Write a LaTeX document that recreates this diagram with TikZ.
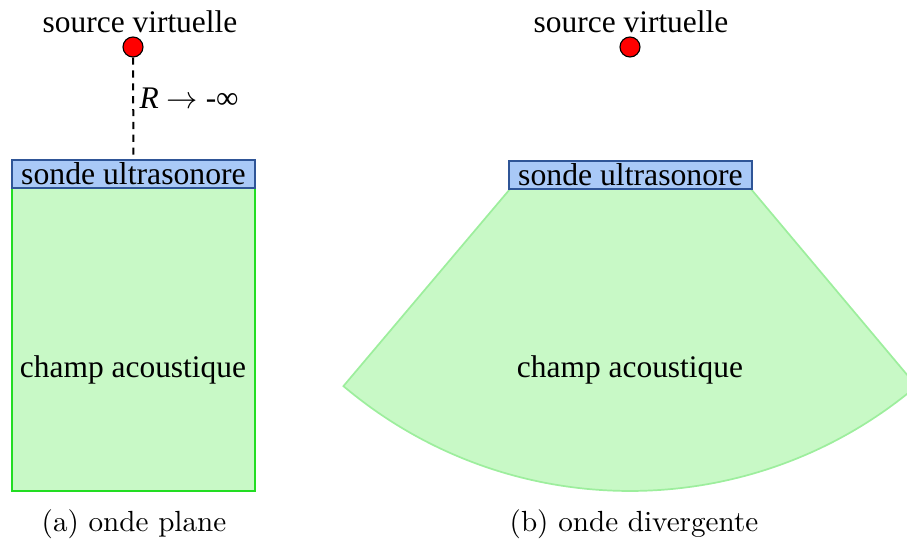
\documentclass[tikz,border=0pt]{standalone}
\usepackage{fontspec}
\newfontfamily\drawfont{Liberation Serif}
\usepackage{tikz}
\usetikzlibrary{positioning,calc}
\definecolor{probefill}{HTML}{A9C9F7}
\definecolor{probeline}{HTML}{2F5597}
\definecolor{fieldfill}{HTML}{C8F9C6}
\definecolor{fieldlineA}{HTML}{22DD22}
\definecolor{fieldlineB}{HTML}{9DEE9D}

\begin{document}
\begin{tikzpicture}[x=0.35pt,y=0.35pt]
	\tikzset{every node/.style={font=\drawfont\fontsize{11}{13}\selectfont}}
	\tikzset{probe/.style={draw=probeline,fill=probefill,line width=0.7pt,minimum width=85pt,minimum height=9.8pt,inner sep=0pt,font=\drawfont\fontsize{11.1}{13}\selectfont}}
	\tikzset{srcdot/.style={circle,draw=black,fill=red,minimum size=7pt,inner sep=0pt,line width=0.4pt}}
	\tikzset{subcap/.style={font=\rmfamily\fontsize{10.2}{12}\selectfont}}
	\useasboundingbox (0,0) rectangle (907,541);
	\clip (0,0) rectangle (907,541);
	% (a) onde plane
	\node[draw=fieldlineA,fill=fieldfill,line width=0.5pt,minimum width=85pt,minimum height=106pt,inner sep=0pt] (fieldA) at (133.5,201.5) {};
	\node[probe] (probeA) at (133.5,367) {sonde ultrasonore};
	\node[srcdot] (srcA) at (133,494) {};
	\node (srcAlbl) at (140,519) {source virtuelle};
	\draw[dash pattern=on 2.5pt off 2pt,line width=0.7pt] (srcA) -- (probeA);
	\node[anchor=west,inner sep=0pt] (radius) at (139,443) {\textit{R} $\rightarrow$ -∞};
	\node (fieldAlbl) at (133,171) {champ acoustique};
	\node[subcap] (capA) at (134,17) {(a) onde plane};
	% (b) onde divergente
	\coordinate (srcBc) at (630,494);
	\fill[fieldfill,draw=fieldlineB,line width=0.6pt] (510,352) -- ($(srcBc)+(229.8:444)$) arc[start angle=229.8,end angle=310.2,radius=444] -- (751,352) -- cycle;
	\node[probe] (probeB) at (630.5,366.5) {sonde ultrasonore};
	\node[srcdot] (srcB) at (srcBc) {};
	\node (srcBlbl) at (631,519) {source virtuelle};
	\node (fieldBlbl) at (630,171) {champ acoustique};
	\node[subcap] (capB) at (634,17) {(b) onde divergente};
\end{tikzpicture}
\end{document}
